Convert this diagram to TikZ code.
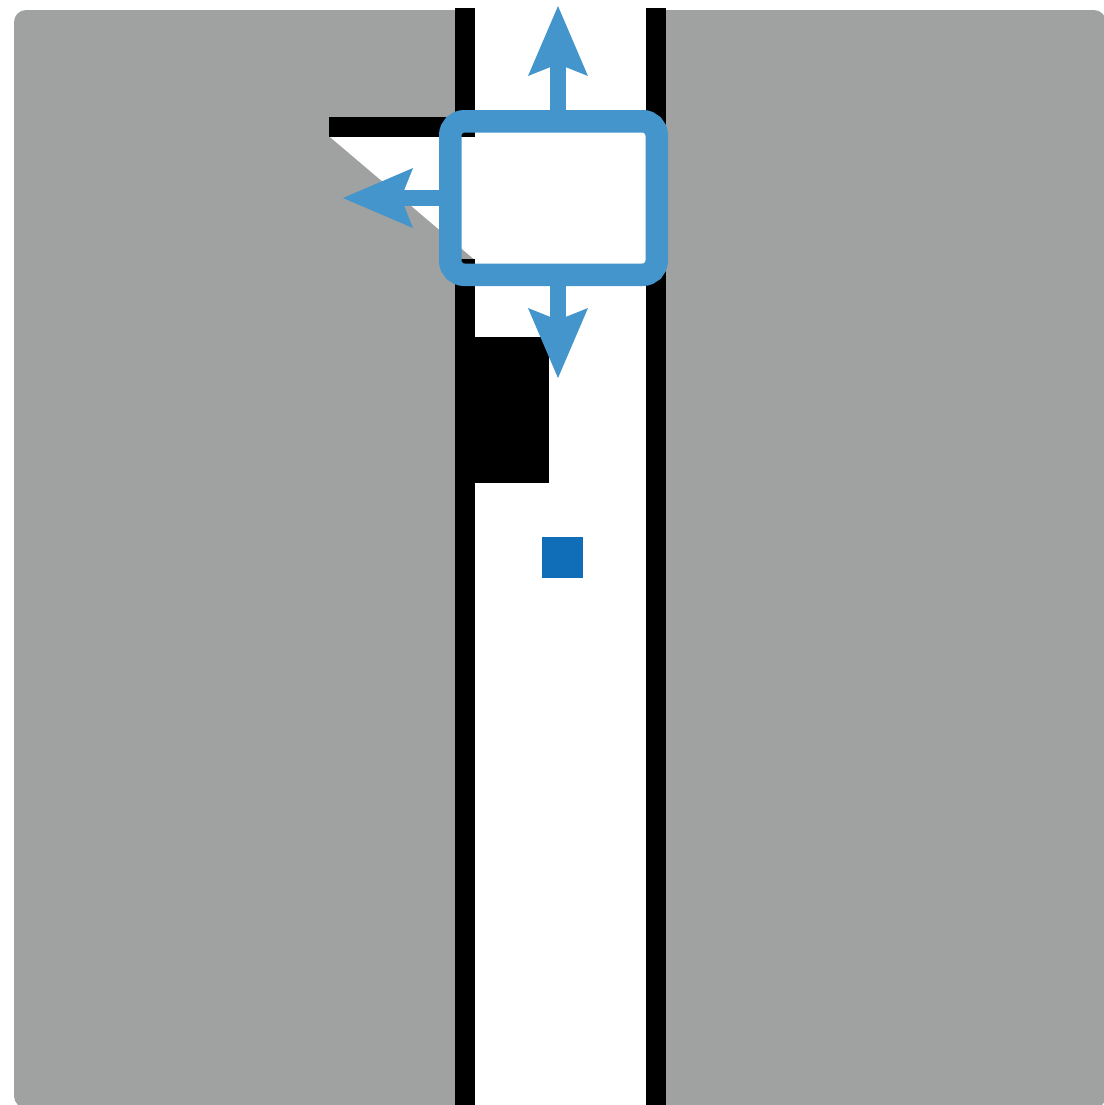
\documentclass[tikz,border=0pt]{standalone}
\usetikzlibrary{arrows.meta}
\definecolor{floorgray}{HTML}{A0A2A1}
\definecolor{selblue}{HTML}{4495CB}
\definecolor{markblue}{HTML}{0F6EB7}
\begin{document}
\begin{tikzpicture}[x=0.5pt,y=-0.5pt,
  wallfill/.style={fill=black},
  selbox/.style={draw=selblue, line width=11.25pt, rounded corners=7pt, minimum width=103.25pt, minimum height=76.75pt, inner sep=0pt},
  movearrow/.style={draw=selblue, line width=8pt, -{Stealth[length=35pt,width=30pt,inset=6pt,line width=0pt]}}]
\useasboundingbox (0,0) rectangle (1104,1105);
% floor
\fill[floorgray, rounded corners=6pt] (14,10) rectangle (1106,1108);
% corridor
\fill[white] (475,0) rectangle (646,1105);
% door swing
\fill[white] (330,137) -- (475,137) -- (475,260) -- cycle;
% door leaf
\fill[wallfill] (329,117) rectangle (475,137);
% walls
\fill[wallfill] (455,8) rectangle (475,137);
\fill[wallfill] (455,259) rectangle (475,1105);
\fill[wallfill] (646,8) rectangle (666,1105);
% black block
\fill[wallfill] (455,337) rectangle (549,483);
% blue marker
\fill[markblue] (542,537) rectangle (583,578);
% selection box
\node[selbox] (box) at (553.5,198) {};
\coordinate (upTip) at (558,6);
\coordinate (leftTip) at (343,198);
\coordinate (downTip) at (558,378);
\draw[movearrow] (box.north -| upTip) -- (upTip);
\draw[movearrow] (box.west) -- (leftTip);
\draw[movearrow] (box.south -| downTip) -- (downTip);
\end{tikzpicture}
\end{document}
